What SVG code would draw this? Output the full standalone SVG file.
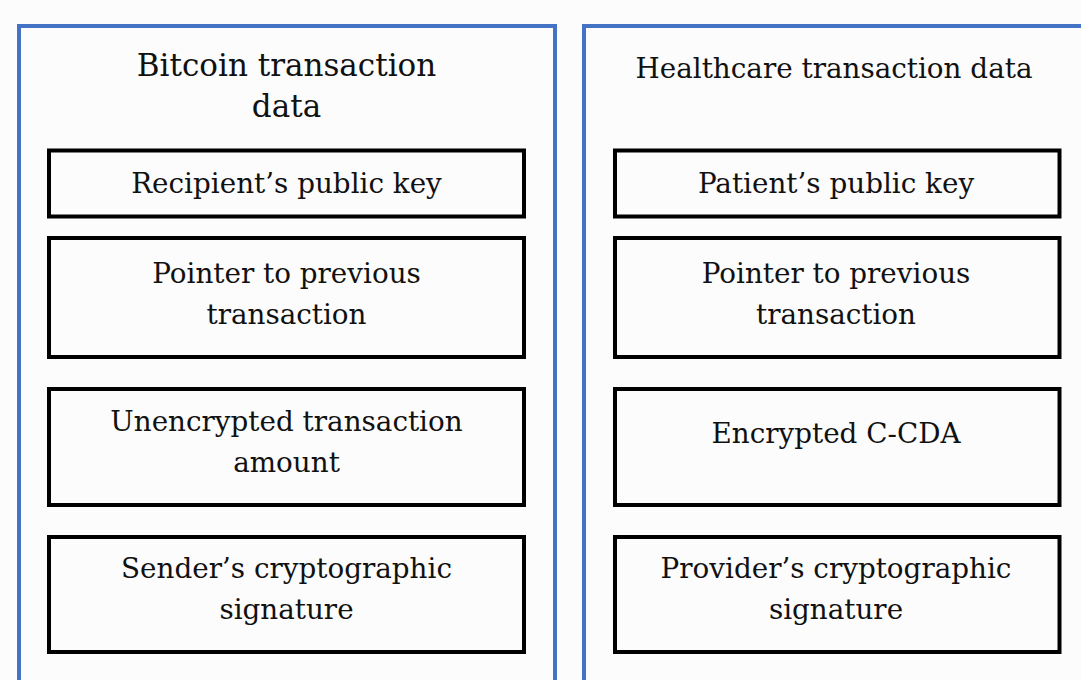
<svg xmlns="http://www.w3.org/2000/svg" width="1081" height="680" viewBox="0 0 1081 680">
<style>
.panel{fill:none;stroke:#4472c4;stroke-width:4}
.box{fill:none;stroke:#000;stroke-width:4}
text{font-family:"DejaVu Serif","Liberation Serif",serif;font-size:27.8px;fill:#111;text-anchor:middle}
.big{font-size:31px}
</style>
<rect width="1081" height="680" fill="#fcfcfc"/>
<g id="panel-bitcoin">
<rect class="panel" x="19" y="26" width="536" height="700"/>
<text class="big" x="286.5" y="76">Bitcoin transaction</text>
<text class="big" x="286.5" y="117">data</text>
</g>
<g id="panel-healthcare">
<rect class="panel" x="584" y="26" width="560" height="700"/>
<text x="834" y="78">Healthcare transaction data</text>
</g>
<g id="b1"><rect class="box" x="49" y="150.5" width="475" height="66"/><text x="286.5" y="193">Recipient’s public key</text></g>
<g id="b2"><rect class="box" x="49" y="238" width="475" height="119"/><text x="286.5" y="283">Pointer to previous</text><text x="286.5" y="324">transaction</text></g>
<g id="b3"><rect class="box" x="49" y="389" width="475" height="116"/><text x="286.5" y="431">Unencrypted transaction</text><text x="286.5" y="472">amount</text></g>
<g id="b4"><rect class="box" x="49" y="537" width="475" height="115"/><text x="286.5" y="578">Sender’s cryptographic</text><text x="286.5" y="619">signature</text></g>
<g id="h1"><rect class="box" x="615" y="150.5" width="444.5" height="66"/><text x="836" y="193">Patient’s public key</text></g>
<g id="h2"><rect class="box" x="615" y="238" width="444.5" height="119"/><text x="836" y="283">Pointer to previous</text><text x="836" y="324">transaction</text></g>
<g id="h3"><rect class="box" x="615" y="389" width="444.5" height="116"/><text x="836" y="443">Encrypted C-CDA</text></g>
<g id="h4"><rect class="box" x="615" y="537" width="444.5" height="115"/><text x="836" y="578">Provider’s cryptographic</text><text x="836" y="619">signature</text></g>
<g id="connectors"></g>
</svg>
